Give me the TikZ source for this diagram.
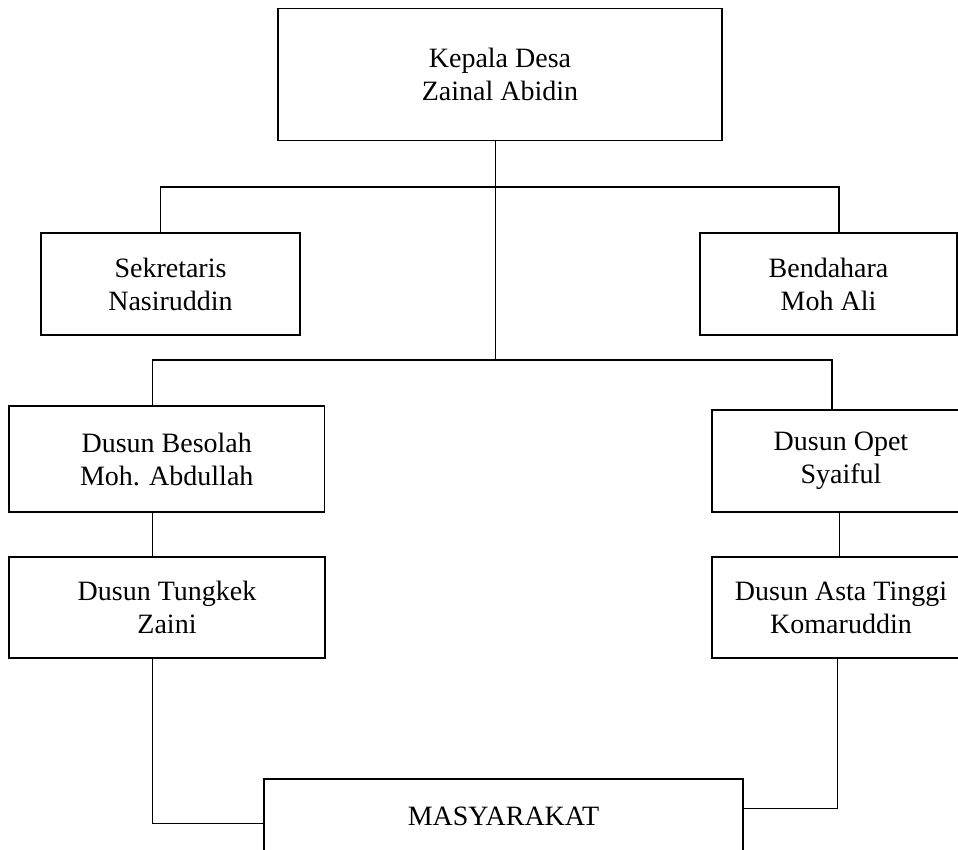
\documentclass[tikz,border=0pt]{standalone}
\usepackage{fontspec}
\setmainfont{Liberation Serif}
\begin{document}
\begin{tikzpicture}[x=1pt,y=1pt,
  box/.style={draw, line width=1.6pt, inner sep=0pt, outer sep=0pt, align=center,
    font=\fontsize{28}{33}\selectfont},
  conn/.style={line width=1.5pt}]
\useasboundingbox (0,0) rectangle (958,-850);
\clip (0,0) rectangle (958,-850);
\fill[white] (0,0) rectangle (958,-850);

\node[box, minimum width=444, minimum height=132] (kepala) at (500,-74.7) {Kepala Desa\\Zainal Abidin};
\node[box, minimum width=259, minimum height=102] (sek) at (170.5,-284) {Sekretaris\\Nasiruddin};
\node[box, minimum width=257, minimum height=102] (bend) at (828.5,-284) {Bendahara\\Moh Ali};
\node[box, minimum width=315.5, minimum height=106] (besolah) at (166.75,-459) {Dusun Besolah\\Moh. Abdullah};
\node[box, minimum width=316, minimum height=101] (tungkek) at (167,-607.5) {Dusun Tungkek\\Zaini};
\node[box, minimum width=258, minimum height=102] (opet) at (841,-461) {Dusun Opet\\Syaiful};
\node[box, minimum width=258, minimum height=101] (asta) at (841,-607.5) {Dusun Asta Tinggi\\Komaruddin};
\node[box, minimum width=479, minimum height=74] (masy) at (503.5,-816) {MASYARAKAT};

\coordinate (spine) at (495.7,0);
\coordinate (busA) at (0,-187);
\coordinate (busB) at (0,-360);
\coordinate (sx) at (160.5,0);
\coordinate (bx) at (839,0);
\coordinate (lx) at (152.5,0);
\coordinate (ox) at (832,0);
\coordinate (rx) at (839.5,0);
\coordinate (lowL) at (152.3,-823.3);
\coordinate (lowR) at (837.3,-808.3);

\draw[conn] (kepala.south -| spine) -- (spine |- busB);
\draw[conn] (sek.north -| sx) -- (sx |- busA) -- (bx |- busA) -- (bend.north -| bx);
\draw[conn] (besolah.north -| lx) -- (lx |- busB) -- (ox |- busB) -- (opet.north -| ox);
\draw[conn] (besolah.south -| lx) -- (tungkek.north -| lx);
\draw[conn] (opet.south -| rx) -- (asta.north -| rx);
\draw[conn] (tungkek.south -| lowL) -- (lowL) -- (masy.west |- lowL);
\draw[conn] (asta.south -| lowR) -- (lowR) -- (masy.east |- lowR);
\end{tikzpicture}
\end{document}
